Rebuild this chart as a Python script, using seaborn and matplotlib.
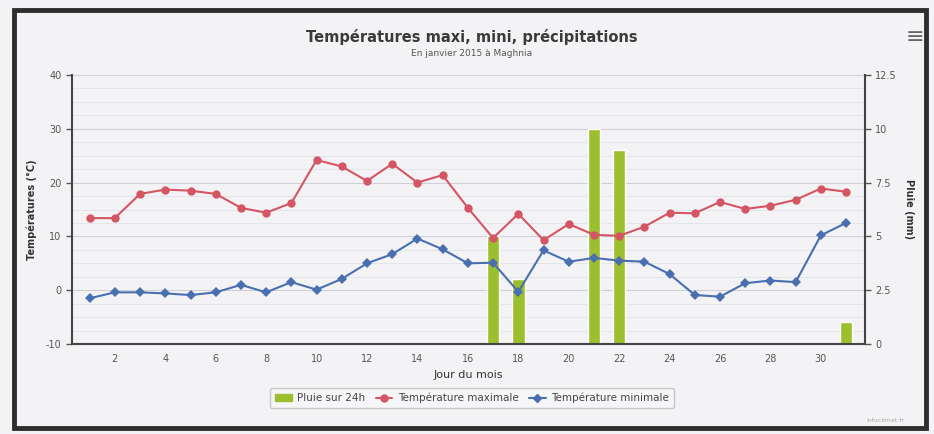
import numpy as np
import pandas as pd
import matplotlib
matplotlib.use('Agg')
import matplotlib.pyplot as plt
import seaborn as sns
from matplotlib.patches import Rectangle
from matplotlib.lines import Line2D
from matplotlib.ticker import MultipleLocator

jours = list(range(1, 32))
temp_max = [13.4, 13.4, 17.9, 18.7, 18.5, 17.9, 15.3, 14.4, 16.2, 24.2,
            23.0, 20.3, 23.5, 20.0, 21.4, 15.3, 9.7, 14.2, 9.3, 12.3,
            10.3, 10.1, 11.8, 14.4, 14.3, 16.4, 15.1, 15.7, 16.8, 18.9, 18.3]
temp_min = [-1.5, -0.4, -0.4, -0.6, -0.9, -0.4, 1.0, -0.4, 1.5, 0.1,
            2.1, 5.0, 6.7, 9.6, 7.6, 5.0, 5.1, -0.3, 7.4, 5.3,
            6.0, 5.5, 5.3, 3.0, -0.9, -1.2, 1.3, 1.8, 1.5, 10.2, 12.5]
pluie = [0, 0, 0, 0, 0, 0, 0, 0, 0, 0,
         0, 0, 0, 0, 0, 0, 5, 3, 0, 0,
         10, 9, 0, 0, 0, 0, 0, 0, 0, 0, 1]
ticks_temp = [-10, 0, 10, 20, 30, 40]
ticks_pluie = [0, 2.5, 5, 7.5, 10, 12.5]
ticks_jour = list(range(2, 31, 2))

df = pd.DataFrame({'jour': jours, 'tmax': temp_max, 'tmin': temp_min, 'pluie': pluie})

sns.set_style('white')
plt.rcParams['font.family'] = ['DejaVu Sans']

c_max = '#d45563'
c_min = '#4a6fb0'
c_rain = '#9cbf2e'
c_text = '#333333'

fig = plt.figure(figsize=(9.34, 4.34), dpi=100)
fig.patch.set_facecolor('#f3f3f5')
fig.patches.append(Rectangle((14 / 934, 1 - 428 / 434), 912 / 934, 418 / 434,
                             transform=fig.transFigure, fill=False,
                             edgecolor='#2e2e2e', linewidth=3.5, zorder=0))

ax = fig.add_axes([72 / 934, 1 - 344 / 434, 793 / 934, 269 / 434])
ax2 = ax.twinx()

# pluie sur l'axe de droite, les courbes passent devant
ax2.bar(df['jour'], df['pluie'], width=0.5, color=c_rain, zorder=2)
ax.set_zorder(ax2.get_zorder() + 1)
ax.patch.set_visible(False)
ax2.patch.set_visible(False)

sns.lineplot(data=df, x='jour', y='tmax', ax=ax, color=c_max, marker='o',
             markersize=6, markeredgewidth=0, linewidth=1.5)
sns.lineplot(data=df, x='jour', y='tmin', ax=ax, color=c_min, marker='D',
             markersize=5, markeredgewidth=0, linewidth=1.5)

ax.set_xlim(0.3, 31.75)
ax.set_ylim(-10, 40)
ax2.set_ylim(0, 12.5)

ax.set_xticks(ticks_jour)
ax.set_xticklabels([str(d) for d in ticks_jour])
ax.xaxis.set_minor_locator(MultipleLocator(1))
ax.set_yticks(ticks_temp)
ax.set_yticklabels([str(t) for t in ticks_temp])
ax2.set_yticks(ticks_pluie)
ax2.set_yticklabels(['0', '2.5', '5', '7.5', '10', '12.5'])
ax2.yaxis.set_minor_locator(MultipleLocator(0.625))

ax.grid(False)
ax2.grid(True, which='major', axis='y', color='#cfd0d6', linewidth=0.8)
ax2.grid(True, which='minor', axis='y', color='#e2e3e8', linewidth=0.6)
ax2.xaxis.grid(True, which='major', color='#cfd0d6', linewidth=0.8)
ax2.xaxis.grid(True, which='minor', color='#e2e3e8', linewidth=0.6)

for a in (ax, ax2):
    for s in a.spines.values():
        s.set_visible(False)
ax.spines['left'].set_visible(True)
ax.spines['bottom'].set_visible(True)
ax2.spines['right'].set_visible(True)
for s in (ax.spines['left'], ax.spines['bottom'], ax2.spines['right']):
    s.set_color('#444444')
    s.set_linewidth(1.5)

ax.tick_params(axis='both', which='major', labelsize=7, colors='#555555',
               length=4, width=1, direction='out')
ax.tick_params(axis='x', which='minor', length=0)
ax2.tick_params(axis='y', which='major', labelsize=7, colors='#555555',
                length=4, width=1)
ax2.tick_params(axis='y', which='minor', length=0)

ax.set_xlabel('Jour du mois', fontsize=8, color=c_text, labelpad=4)
ax.set_ylabel('Températures (°C)', fontsize=7, color=c_text, fontweight='bold', labelpad=6)
ax2.set_ylabel('Pluie (mm)', fontsize=7, color=c_text, fontweight='bold',
               rotation=270, labelpad=12)

fig.text(472 / 934, 1 - 37 / 434, 'Températures maxi, mini, précipitations',
         ha='center', va='center', fontsize=10.5, fontweight='bold', color='#3a3a3a')
fig.text(472 / 934, 1 - 53 / 434, 'En janvier 2015 à Maghnia',
         ha='center', va='center', fontsize=6.5, color='#555555')
fig.text(915 / 934, 1 - 37 / 434, '≡', ha='center', va='center',
         fontsize=16, color='#666666')
fig.text(904 / 934, 1 - 421 / 434, 'infoclimat.fr', ha='right', va='center',
         fontsize=4.5, color='#aaaaaa')

handles = [
    Rectangle((0, 0), 1, 1, color=c_rain),
    Line2D([], [], color=c_max, marker='o', markersize=5, linewidth=1.5),
    Line2D([], [], color=c_min, marker='D', markersize=4, linewidth=1.5),
]
labels = ['Pluie sur 24h', 'Température maximale', 'Température minimale']
leg = fig.legend(handles, labels, loc='center', bbox_to_anchor=(472 / 934, 1 - 398 / 434),
                 ncol=3, fontsize=7.5, frameon=True, fancybox=True,
                 handlelength=1.6, handletextpad=0.5, columnspacing=1.0,
                 borderpad=0.5)
leg.get_frame().set_edgecolor('#bbbbbb')
leg.get_frame().set_facecolor('#f7f7f9')
for t in leg.get_texts():
    t.set_color('#444444')

fig.savefig('out.png', dpi=100, facecolor=fig.get_facecolor())
